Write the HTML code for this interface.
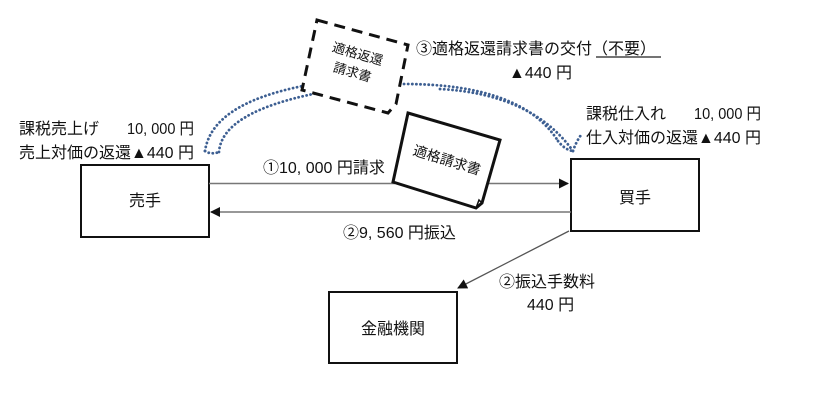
<!DOCTYPE html>
<html><head><meta charset="utf-8"><style>
html,body{margin:0;padding:0;background:#fff;}
svg{display:block;}
text{font-family:"Liberation Sans","Noto Sans CJK JP",sans-serif;fill:#111;}
</style></head><body>
<svg width="821" height="402" viewBox="0 0 821 402" xmlns="http://www.w3.org/2000/svg">
<defs>
<marker id="ah" markerWidth="10" markerHeight="10" refX="9" refY="5" orient="auto" markerUnits="userSpaceOnUse">
<path d="M0,0 L10,5 L0,10 z" fill="#111"/>
</marker>
</defs>
<!-- boxes -->
<rect x="81" y="165" width="128" height="72" fill="#fff" stroke="#111" stroke-width="2"/>
<rect x="571" y="159" width="128" height="72" fill="#fff" stroke="#111" stroke-width="2"/>
<rect x="329" y="292" width="128" height="71" fill="#fff" stroke="#111" stroke-width="2"/>
<text x="145" y="206" font-size="16" text-anchor="middle">売手</text>
<text x="635" y="203" font-size="16" text-anchor="middle">買手</text>
<text x="393" y="334" font-size="16" text-anchor="middle">金融機関</text>

<!-- connectors -->
<line x1="209" y1="183.5" x2="395" y2="183.5" stroke="#777" stroke-width="1.5"/>
<line x1="488" y1="183.5" x2="568" y2="183.5" stroke="#777" stroke-width="1.5" marker-end="url(#ah)"/>
<line x1="571" y1="212" x2="211" y2="212" stroke="#777" stroke-width="1.5" marker-end="url(#ah)"/>
<line x1="569" y1="231" x2="458" y2="288" stroke="#555" stroke-width="1.3" marker-end="url(#ah)"/>

<!-- dotted curves -->
<g fill="none" stroke="#3d5f92" stroke-width="2.8" stroke-linecap="round" stroke-dasharray="0.1 4">
<path d="M205 151 Q212 104 303 86"/>
<path d="M219 152 Q222 112 318 93"/>
<path d="M205 151 Q211 155 219 152"/>
<path d="M404 84 Q522 84 558 141"/>
<path d="M440 89 Q532 94 573 151"/>
<path d="M558 141 Q565 150 573 151"/>
<path d="M573 151 Q576 142 581 135"/>
</g>

<!-- dashed returned invoice -->
<path d="M317 20 L408 45 L396 104 L388 113 L302 90 Z" fill="#fff" stroke="#111" stroke-width="3" stroke-dasharray="11 7"/>
<g transform="translate(355,63) rotate(16)">
<text x="0" y="-5" font-size="13" text-anchor="middle">適格返還</text>
<text x="0" y="14" font-size="13" text-anchor="middle">請求書</text>
</g>

<!-- invoice document -->
<path d="M408 113 L500 140 L482 203 L476 208 L393 182 Z" fill="#fff" stroke="#111" stroke-width="3"/>
<path d="M476 208 L479 200 L482 203" fill="none" stroke="#111" stroke-width="1.5"/>
<g transform="translate(447,160) rotate(17)">
<text x="0" y="5" font-size="14" text-anchor="middle">適格請求書</text>
</g>

<!-- labels -->
<text x="19" y="134" font-size="16">課税売上げ</text>
<text x="127" y="134" font-size="16" textLength="67" lengthAdjust="spacingAndGlyphs">10, 000 円</text>
<text x="19" y="158" font-size="16">売上対価の返還▲440 円</text>

<text x="586" y="119" font-size="16">課税仕入れ</text>
<text x="694" y="119" font-size="16" textLength="67" lengthAdjust="spacingAndGlyphs">10, 000 円</text>
<text x="586" y="143" font-size="16">仕入対価の返還▲440 円</text>

<text x="416" y="54" font-size="16">③適格返還請求書の交付（不要）</text>
<line x1="596" y1="57" x2="661" y2="57" stroke="#222" stroke-width="1.2"/>
<text x="509" y="78" font-size="16">▲440 円</text>

<text x="263" y="173" font-size="16">①10, 000 円請求</text>
<text x="343" y="238" font-size="16">②9, 560 円振込</text>
<text x="499" y="287" font-size="16">②振込手数料</text>
<text x="527" y="310" font-size="16">440 円</text>
</svg>
</body></html>
